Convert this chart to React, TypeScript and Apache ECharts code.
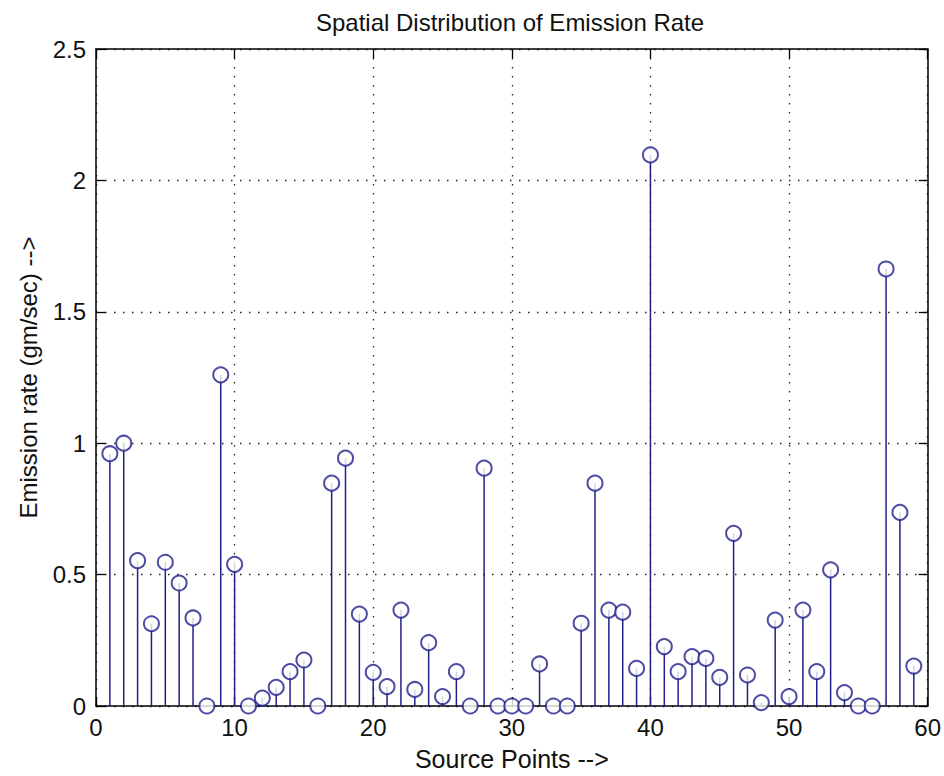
import React, { useEffect, useRef } from "react";
import * as echarts from "echarts";

const sourcePoints: number[] = [
  1, 2, 3, 4, 5, 6, 7, 8, 9, 10, 11, 12, 13, 14, 15, 16, 17, 18, 19, 20,
  21, 22, 23, 24, 25, 26, 27, 28, 29, 30, 31, 32, 33, 34, 35, 36, 37, 38, 39, 40,
  41, 42, 43, 44, 45, 46, 47, 48, 49, 50, 51, 52, 53, 54, 55, 56, 57, 58, 59,
];

const emissionRates: number[] = [
  0.96, 1.0, 0.553, 0.313, 0.547, 0.468, 0.335, 0.0, 1.26, 0.539,
  0.0, 0.03, 0.071, 0.131, 0.175, 0.0, 0.848, 0.943, 0.35, 0.128,
  0.074, 0.365, 0.063, 0.241, 0.036, 0.131, 0.0, 0.905, 0.0, 0.0,
  0.0, 0.16, 0.0, 0.0, 0.315, 0.848, 0.365, 0.357, 0.143, 2.097,
  0.226, 0.131, 0.188, 0.181, 0.109, 0.657, 0.118, 0.013, 0.327, 0.036,
  0.365, 0.131, 0.518, 0.051, 0.0, 0.0, 1.663, 0.737, 0.152,
];

const titleText = "Spatial Distribution of Emission Rate";
const xAxisName = "Source Points -->";
const yAxisName = "Emission rate (gm/sec) -->";

const STEM_COLOR = "#1f1f8c";
const FONT = "'Liberation Sans', Arial, sans-serif";

export default function App() {
  const ref = useRef<HTMLDivElement>(null);

  useEffect(() => {
    if (!ref.current) return;
    const chart = echarts.init(ref.current, null, { renderer: "svg" });
    const points = sourcePoints.map((x, i) => [x, emissionRates[i]]);

    const tickStyle = { show: true, inside: true, length: 9, lineStyle: { color: "#000", width: 1.3 } };
    const axisLineStyle = { show: true, onZero: false, lineStyle: { color: "#000", width: 1.5 } };
    const gridLine = { show: true, lineStyle: { color: "#222", width: 1.3, type: [1.5, 7.5] as any } };

    chart.setOption({
      animation: false,
      backgroundColor: "#ffffff",
      title: {
        text: titleText,
        left: 505,
        top: 5,
        textAlign: "center",
        textStyle: { fontFamily: FONT, fontSize: 24, fontWeight: "normal", color: "#111" },
      },
      grid: { left: 96, right: 15, top: 49, bottom: 70, containLabel: false },
      xAxis: [
        {
          type: "value",
          min: 0,
          max: 60,
          interval: 10,
          position: "bottom",
          name: xAxisName,
          nameLocation: "middle",
          nameGap: 40,
          nameTextStyle: { fontFamily: FONT, fontSize: 25, color: "#111" },
          axisLine: axisLineStyle,
          axisTick: tickStyle,
          axisLabel: { fontFamily: FONT, fontSize: 24, color: "#111", margin: 9 },
          splitLine: gridLine,
        },
        {
          type: "value",
          min: 0,
          max: 60,
          interval: 10,
          position: "top",
          axisLine: axisLineStyle,
          axisTick: tickStyle,
          axisLabel: { show: false },
          splitLine: { show: false },
        },
      ],
      yAxis: [
        {
          type: "value",
          min: 0,
          max: 2.5,
          interval: 0.5,
          position: "left",
          name: yAxisName,
          nameLocation: "middle",
          nameGap: 56,
          nameTextStyle: { fontFamily: FONT, fontSize: 24, color: "#111" },
          axisLine: axisLineStyle,
          axisTick: tickStyle,
          axisLabel: { fontFamily: FONT, fontSize: 24, color: "#111", margin: 10 },
          splitLine: gridLine,
        },
        {
          type: "value",
          min: 0,
          max: 2.5,
          interval: 0.5,
          position: "right",
          axisLine: axisLineStyle,
          axisTick: tickStyle,
          axisLabel: { show: false },
          splitLine: { show: false },
        },
      ],
      series: [
        {
          type: "custom",
          xAxisIndex: 0,
          yAxisIndex: 0,
          data: points,
          clip: true,
          renderItem: (params: any, api: any) => {
            const x = api.value(0);
            const y = api.value(1);
            const p0 = api.coord([x, 0]);
            const p1 = api.coord([x, y]);
            return {
              type: "line",
              shape: { x1: p0[0], y1: p0[1], x2: p1[0], y2: p1[1] },
              style: { stroke: STEM_COLOR, lineWidth: 1.5 },
            };
          },
          z: 2,
        },
        {
          type: "scatter",
          xAxisIndex: 0,
          yAxisIndex: 0,
          data: points,
          symbol: "emptyCircle",
          symbolSize: 15,
          itemStyle: { color: STEM_COLOR, borderColor: STEM_COLOR, borderWidth: 1.5 },
          z: 3,
        },
      ],
    });

    return () => chart.dispose();
  }, []);

  return (
    <div
      ref={ref}
      style={{ position: "fixed", left: 0, top: 0, width: 944, height: 776, background: "#fff" }}
    />
  );
}
